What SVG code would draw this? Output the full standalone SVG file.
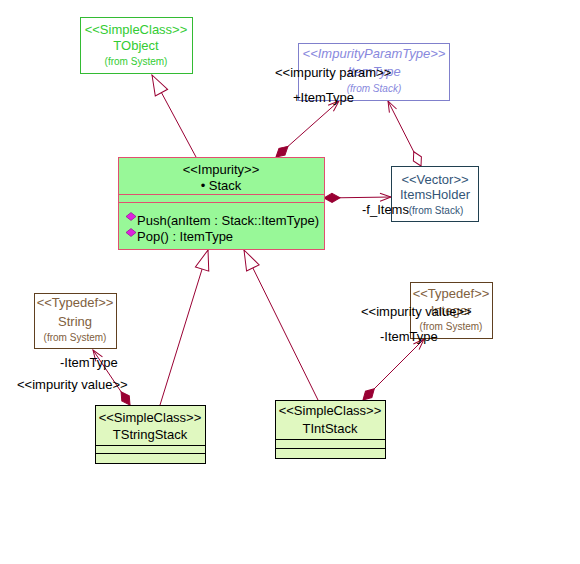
<svg xmlns="http://www.w3.org/2000/svg" width="580" height="564" viewBox="0 0 580 564">
<style>
text{font-family:"Liberation Sans",Arial,sans-serif;font-size:13px}
.c{text-anchor:middle}
.sm{font-size:10px}
.lbl{fill:#000}
.con{fill:none;stroke:#990033;stroke-width:1}
</style>
<defs>
<marker id="tri" markerUnits="userSpaceOnUse" orient="auto" refX="0" refY="0" markerWidth="30" markerHeight="30" overflow="visible"><path d="M0,0 L-20,-7 L-20,7 Z" fill="#fff" stroke="#990033"/></marker>
<marker id="arr" markerUnits="userSpaceOnUse" orient="auto" refX="0" refY="0" markerWidth="30" markerHeight="30" overflow="visible"><path d="M-11,-4 L0,0 L-11,4" fill="none" stroke="#990033"/></marker>
<marker id="dia" markerUnits="userSpaceOnUse" orient="auto" refX="0" refY="0" markerWidth="30" markerHeight="30" overflow="visible"><path d="M0,0 L8,-4.5 L16,0 L8,4.5 Z" fill="#990033" stroke="#990033"/></marker>
<marker id="odia" markerUnits="userSpaceOnUse" orient="auto" refX="0" refY="0" markerWidth="30" markerHeight="30" overflow="visible"><path d="M0,0 L8,-4.5 L16,0 L8,4.5 Z" fill="#fff" stroke="#990033"/></marker>
</defs>
<rect width="580" height="564" fill="#fff"/>
<g id="connectors">
<path class="con" d="M196,157 L152,75" marker-end="url(#tri)"/>
<path class="con" d="M276,157 L339,101" marker-start="url(#dia)" marker-end="url(#arr)"/>
<path class="con" d="M421,166 L388,101" marker-start="url(#odia)" marker-end="url(#arr)"/>
<path class="con" d="M324,198 L391,197" marker-start="url(#dia)" marker-end="url(#arr)"/>
<path class="con" d="M160,405 L208,250" marker-end="url(#tri)"/>
<path class="con" d="M318,400 L244,250" marker-end="url(#tri)"/>
<path class="con" d="M130,405 L93,350" marker-start="url(#dia)" marker-end="url(#arr)"/>
<path class="con" d="M363,400 L424,339" marker-start="url(#dia)" marker-end="url(#arr)"/>
</g>
<g id="TObject">
<rect x="80.5" y="17.5" width="112" height="56" fill="#fff" stroke="#33bb33"/>
<text class="c" x="136" y="34" fill="#33cc33">&lt;&lt;SimpleClass&gt;&gt;</text>
<text class="c" x="136" y="50" fill="#33cc33">TObject</text>
<text class="c sm" x="136" y="65" fill="#33cc33">(from System)</text>
</g>
<g id="ItemType">
<rect x="298.5" y="43.5" width="151" height="57" fill="#fff" stroke="#8080cc"/>
<text class="c" x="374" y="58" fill="#8888dd" font-style="italic">&lt;&lt;ImpurityParamType&gt;&gt;</text>
<text class="c" x="374" y="76" fill="#8888dd" font-style="italic">ItemType</text>
<text class="c sm" x="374" y="92" fill="#8888dd" font-style="italic">(from Stack)</text>
</g>
<g id="Stack">
<rect x="118.5" y="157.5" width="206" height="92" fill="#98f898" stroke="#e05070"/>
<line x1="118.5" y1="194.5" x2="324.5" y2="194.5" stroke="#e05070"/>
<line x1="118.5" y1="202.5" x2="324.5" y2="202.5" stroke="#e05070"/>
<text class="c" x="221" y="174" fill="#000">&lt;&lt;Impurity&gt;&gt;</text>
<text class="c" x="221" y="190" fill="#000">• Stack</text>
<path d="M131,212.5 L136,216.5 L131,220.5 L126,216.5 Z M131,228.5 L136,232.5 L131,236.5 L126,232.5 Z" fill="#dd22dd" stroke="#880088" stroke-width="0.6"/>
<text x="137" y="225" fill="#000">Push(anItem : Stack::ItemType)</text>
<text x="137" y="241" fill="#000">Pop() : ItemType</text>
</g>
<g id="ItemsHolder">
<rect x="391.5" y="166.5" width="87" height="55" fill="#fff" stroke="#204050"/>
<text class="c" x="435" y="184" fill="#335577">&lt;&lt;Vector&gt;&gt;</text>
<text class="c" x="435" y="199" fill="#335577">ItemsHolder</text>
<text class="c sm" x="436" y="214" fill="#335577">(from Stack)</text>
</g>
<g id="String">
<rect x="34.5" y="293.5" width="82" height="55" fill="#fff" stroke="#604020"/>
<text class="c" x="75" y="307" fill="#806040">&lt;&lt;Typedef&gt;&gt;</text>
<text class="c" x="75" y="326" fill="#806040">String</text>
<text class="c sm" x="75" y="341" fill="#806040">(from System)</text>
</g>
<g id="Integer">
<rect x="410.5" y="282.5" width="82" height="56" fill="#fff" stroke="#604020"/>
<text class="c" x="451" y="298" fill="#806040">&lt;&lt;Typedef&gt;&gt;</text>
<text class="c" x="451" y="315" fill="#806040">Integer</text>
<text class="c sm" x="451" y="330" fill="#806040">(from System)</text>
</g>
<g id="TStringStack">
<rect x="95.5" y="405.5" width="110" height="58" fill="#e0f8c0" stroke="#000"/>
<line x1="95.5" y1="445.5" x2="205.5" y2="445.5" stroke="#000"/>
<line x1="95.5" y1="453.5" x2="205.5" y2="453.5" stroke="#000"/>
<text class="c" x="150" y="422" fill="#000">&lt;&lt;SimpleClass&gt;&gt;</text>
<text class="c" x="150" y="439" fill="#000">TStringStack</text>
</g>
<g id="TIntStack">
<rect x="275.5" y="400.5" width="110" height="58" fill="#e0f8c0" stroke="#000"/>
<line x1="275.5" y1="439.5" x2="385.5" y2="439.5" stroke="#000"/>
<line x1="275.5" y1="448.5" x2="385.5" y2="448.5" stroke="#000"/>
<text class="c" x="330" y="415" fill="#000">&lt;&lt;SimpleClass&gt;&gt;</text>
<text class="c" x="330" y="433" fill="#000">TIntStack</text>
</g>
<g id="labels">
<text class="lbl" x="275" y="77">&lt;&lt;impurity param&gt;&gt;</text>
<text class="lbl" x="293" y="102">+ItemType</text>
<text class="lbl" x="362" y="214">-f_Items</text>
<text class="lbl" x="60" y="367">-ItemType</text>
<text class="lbl" x="17" y="389">&lt;&lt;impurity value&gt;&gt;</text>
<text class="lbl" x="361" y="316">&lt;&lt;impurity value&gt;&gt;</text>
<text class="lbl" x="380" y="341">-ItemType</text>
</g>
</svg>
